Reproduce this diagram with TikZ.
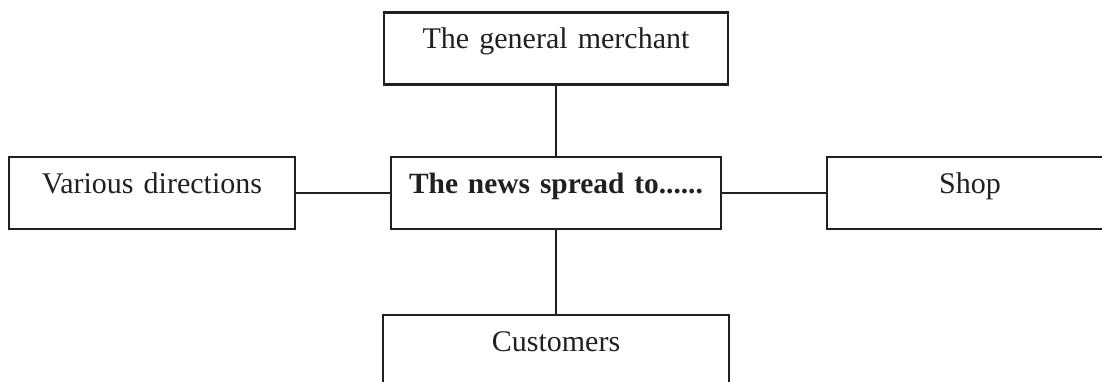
\documentclass[tikz,border=0pt]{standalone}
\usepackage{fontspec}
\setmainfont[WordSpace={1.35}]{Liberation Serif}
\definecolor{ink}{HTML}{231F20}
\begin{document}
\begin{tikzpicture}[x=1pt,y=-1pt,
  box/.style={draw=ink, line width=2.2pt, rectangle, minimum height=72pt,
    inner sep=0pt, text=ink, font=\fontsize{30}{34}\selectfont,
    text height=10pt, text depth=10pt},
  link/.style={draw=ink, line width=2.2pt}]
\useasboundingbox (0,0) rectangle (1102,381);
\clip (0,0) rectangle (1102,381);
\node[box, minimum width=344pt] (top) at (556,48.5) {The general merchant};
\node[box, minimum width=330pt, font=\fontsize{29.4}{34}\selectfont\bfseries] (mid) at (556,193) {The news spread to......};
\node[box, minimum width=286pt] (left) at (152,193) {Various directions};
\node[box, minimum width=286pt] (right) at (970,193) {Shop};
\node[box, minimum width=346pt] (bot) at (556,351) {Customers};
\draw[link] (top.south) -- (mid.north);
\draw[link] (mid.south) -- (bot.north);
\draw[link] (left.east) -- (mid.west);
\draw[link] (mid.east) -- (right.west);
\end{tikzpicture}
\end{document}
